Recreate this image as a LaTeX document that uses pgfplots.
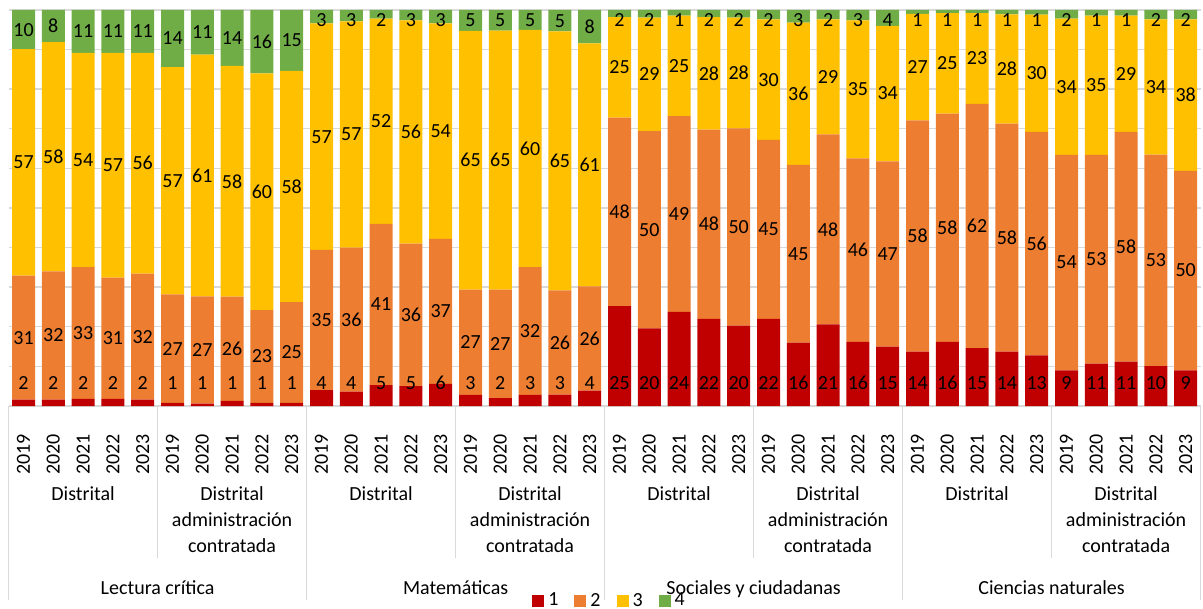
\documentclass[border=0pt]{standalone}
\usepackage{fontspec}
\setmainfont{Carlito}
\usepackage{pgfplots}
\pgfplotsset{compat=1.18}
\usepackage{pgfplotstable}

\definecolor{n1}{HTML}{C00000}
\definecolor{n2}{HTML}{ED7D31}
\definecolor{n3}{HTML}{FFC000}
\definecolor{n4}{HTML}{70AD47}
\definecolor{linea}{HTML}{D9D9D9}

% porcentaje por nivel de desempeno; x = posicion de la barra
\pgfplotstableread{
x n1 n2 n3 n4
0 1.6 31.3 57.2 9.9
1 1.6 32.4 57.9 8.1
2 1.8 33.3 54.1 10.8
3 1.8 30.6 56.8 10.8
4 1.6 31.8 55.8 10.8
5 0.8 27.4 57.4 14.4
6 0.6 27.1 61.0 11.3
7 1.3 26.3 58.3 14.1
8 0.8 23.4 59.8 16.0
9 0.8 25.4 58.4 15.4
10 4.0 35.4 57.2 3.4
11 3.6 36.4 57.1 2.9
12 5.3 40.7 51.8 2.2
13 5.0 36.0 56.4 2.6
14 5.6 36.6 54.4 3.4
15 2.8 26.6 65.3 5.3
16 2.0 27.4 65.4 5.2
17 2.8 32.3 59.9 5.0
18 2.9 26.3 65.4 5.4
19 3.9 26.3 61.4 8.4
20 25.2 47.6 25.4 1.8
21 19.6 49.8 28.7 1.9
22 23.8 49.4 25.4 1.4
23 22.0 47.8 28.4 1.8
24 20.3 49.8 28.0 1.9
25 22.0 45.2 30.4 2.4
26 16.0 44.9 35.9 3.2
27 20.6 48.0 29.0 2.4
28 16.2 46.3 34.9 2.6
29 15.0 46.8 34.2 4.0
30 13.7 58.4 26.9 1.0
31 16.2 57.6 25.4 0.8
32 14.6 61.7 22.9 0.8
33 13.7 57.6 27.6 1.1
34 12.8 56.4 29.6 1.2
35 9.0 54.4 34.4 2.2
36 10.7 52.7 35.2 1.4
37 11.2 58.0 29.4 1.4
38 10.1 53.4 34.1 2.4
39 9.0 50.4 38.2 2.4
}\datos

% centro de cada segmento, para las etiquetas
\pgfplotstablecreatecol[expr={\thisrow{n1}+0.5*\thisrow{n2}}]{c2}\datos
\pgfplotstablecreatecol[expr={\thisrow{n1}+\thisrow{n2}+0.5*\thisrow{n3}}]{c3}\datos
\pgfplotstablecreatecol[expr={min(\thisrow{n1}+\thisrow{n2}+\thisrow{n3}+0.5*\thisrow{n4},97.4)}]{c4}\datos

\pgfplotsset{
  seg/.style={fill=#1, draw=none,
    legend image code/.code={\fill[#1] (0pt,-3pt) rectangle (6pt,3pt);}},
  marco/.style={width=596pt, height=198pt, scale only axis,
    xmin=-0.5, xmax=39.5, ymin=0, ymax=100},
}

\begin{document}
\begin{tikzpicture}
\begin{axis}[
    name=ax, marco,
    ybar stacked, bar width=11.5pt,
    ytick={0,10,...,100}, yticklabels={},
    ymajorgrids, grid style={linea, line width=0.7pt},
    xtick={0,...,39},
    xticklabels={2019,2020,2021,2022,2023,2019,2020,2021,2022,2023,
                 2019,2020,2021,2022,2023,2019,2020,2021,2022,2023,
                 2019,2020,2021,2022,2023,2019,2020,2021,2022,2023,
                 2019,2020,2021,2022,2023,2019,2020,2021,2022,2023},
    xticklabel style={rotate=90, anchor=east, font=\fontsize{10}{12}\selectfont, inner sep=0pt},
    xticklabel shift=14pt,
    major tick length=0pt,
    axis line style={draw=none},
    clip=false,
    legend columns=-1,
    legend style={at={(rel axis cs:0.505,-0.4925)}, anchor=center, draw=none, fill=none,
      inner sep=0pt, font=\fontsize{10}{12}\selectfont,
      /tikz/every even column/.append style={column sep=6pt}},
]
\addplot[seg=n1] table[x=x, y=n1]{\datos};
\addlegendentry{1}
\addplot[seg=n2] table[x=x, y=n2]{\datos};
\addlegendentry{2}
\addplot[seg=n3] table[x=x, y=n3]{\datos};
\addlegendentry{3}
\addplot[seg=n4] table[x=x, y=n4]{\datos};
\addlegendentry{4}

% lineas del eje de categorias
\draw[linea, line width=0.7pt] (axis cs:-0.5,0) -- (axis cs:39.5,0);
\draw[linea, line width=0.7pt] (axis cs:-0.5,0) -- ++(0pt,-97pt);
\draw[linea, line width=0.7pt] (axis cs:9.5,0) -- ++(0pt,-97pt);
\draw[linea, line width=0.7pt] (axis cs:19.5,0) -- ++(0pt,-97pt);
\draw[linea, line width=0.7pt] (axis cs:29.5,0) -- ++(0pt,-97pt);
\draw[linea, line width=0.7pt] (axis cs:39.5,0) -- ++(0pt,-97pt);
\draw[linea, line width=0.7pt] (axis cs:4.5,0) -- ++(0pt,-76pt);
\draw[linea, line width=0.7pt] (axis cs:14.5,0) -- ++(0pt,-76pt);
\draw[linea, line width=0.7pt] (axis cs:24.5,0) -- ++(0pt,-76pt);
\draw[linea, line width=0.7pt] (axis cs:34.5,0) -- ++(0pt,-76pt);

% grupos
\tikzset{grupo/.style={font=\fontsize{10}{13}\selectfont, align=center, anchor=north, inner sep=0pt}}
\node[grupo] at ([yshift=-40pt]axis cs:2,0) {Distrital};
\node[grupo] at ([yshift=-40pt]axis cs:7,0) {Distrital\\administración\\contratada};
\node[grupo] at ([yshift=-40pt]axis cs:12,0) {Distrital};
\node[grupo] at ([yshift=-40pt]axis cs:17,0) {Distrital\\administración\\contratada};
\node[grupo] at ([yshift=-40pt]axis cs:22,0) {Distrital};
\node[grupo] at ([yshift=-40pt]axis cs:27,0) {Distrital\\administración\\contratada};
\node[grupo] at ([yshift=-40pt]axis cs:32,0) {Distrital};
\node[grupo] at ([yshift=-40pt]axis cs:37,0) {Distrital\\administración\\contratada};

% areas
\node[grupo] at ([yshift=-87pt]axis cs:4.5,0) {Lectura crítica};
\node[grupo] at ([yshift=-87pt]axis cs:14.5,0) {Matemáticas};
\node[grupo] at ([yshift=-87pt]axis cs:24.5,0) {Sociales y ciudadanas};
\node[grupo] at ([yshift=-87pt]axis cs:34.5,0) {Ciencias naturales};

\coordinate (bbsw) at ([xshift=-4.3pt, yshift=-101.5pt]axis cs:-0.5,0);
\coordinate (bbne) at ([xshift=1.2pt, yshift=5pt]axis cs:39.5,100);
\end{axis}

% etiquetas de datos, en un eje superpuesto sin apilar
\begin{axis}[
    marco, at={(ax.south west)}, anchor=south west, hide axis, clip=false,
    nodes near coords={\pgfmathprintnumber[fixed,precision=0]{\pgfplotspointmeta}},
    nodes near coords align=center,
    every node near coord/.append style={font=\fontsize{10}{12}\selectfont, inner sep=0pt},
    /pgf/number format/assume math mode=true,
    point meta=explicit,
]
\addplot[draw=none, mark=none] table[x=x, y expr=5.8, meta=n1]{\datos};
\addplot[draw=none, mark=none] table[x=x, y=c2, meta=n2]{\datos};
\addplot[draw=none, mark=none] table[x=x, y=c3, meta=n3]{\datos};
\addplot[draw=none, mark=none] table[x=x, y=c4, meta=n4]{\datos};
\end{axis}
\pgfresetboundingbox
\path (bbsw) rectangle (bbne);
\end{tikzpicture}
\end{document}
